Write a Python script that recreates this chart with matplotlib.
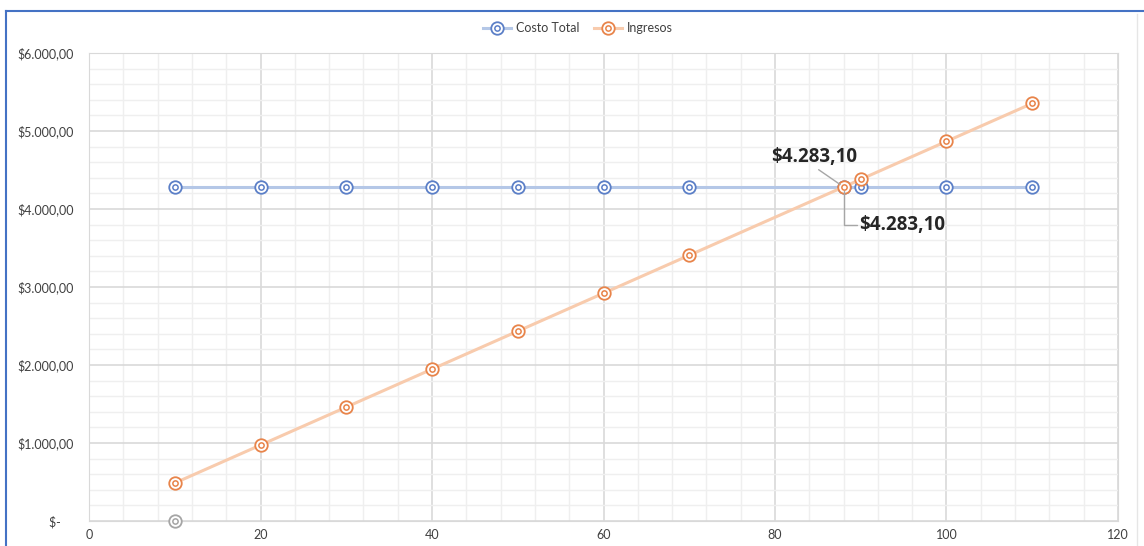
import matplotlib.pyplot as plt
from matplotlib.lines import Line2D
from matplotlib.ticker import MultipleLocator, FuncFormatter

plt.rcParams['font.family'] = ['Lato', 'DejaVu Sans']

# datos
unidades = [10, 20, 30, 40, 50, 60, 70, 88, 90, 100, 110]
costo_total = [4283.10] * len(unidades)
ingresos = [486.72, 973.43, 1460.15, 1946.86, 2433.58, 2920.30, 3407.01,
            4283.10, 4380.44, 4867.16, 5353.88]
punto_gris_x = [10]
punto_gris_y = [0]
equilibrio_x = 88
equilibrio_y = 4283.10

azul = '#5b7fc7'
azul_linea = '#b4c7e7'
naranja = '#e8844a'
naranja_linea = '#f8cbad'
gris = '#a5a5a5'
texto = '#404040'


def money(v, pos=None):
    if abs(v) < 1e-9:
        return '$-    '
    s = f'{v:,.2f}'.replace(',', 'X').replace('.', ',').replace('X', '.')
    return '$' + s


fig = plt.figure(figsize=(11.44, 5.46), dpi=100)
ax = fig.add_axes([89 / 1144, 1 - 521 / 546, (1118 - 89) / 1144, (521 - 53) / 546])


def serie(x, y, col_line, col_mark, z):
    ax.plot(x, y, color=col_line, lw=2.2, zorder=z, solid_capstyle='round')
    ax.plot(x, y, ls='none', marker='o', ms=9, mfc='#ffffff', mec=col_mark,
            mew=1.3, zorder=z + 0.1)
    ax.plot(x, y, ls='none', marker='o', ms=3.8, mfc='none', mec=col_mark,
            mew=1.1, zorder=z + 0.2)


serie(unidades, costo_total, azul_linea, azul, 3)
serie(unidades, ingresos, naranja_linea, naranja, 4)
ax.plot(punto_gris_x, punto_gris_y, ls='none', marker='o', ms=9, mfc='#ffffff',
        mec=gris, mew=1.3, zorder=5, clip_on=False)
ax.plot(punto_gris_x, punto_gris_y, ls='none', marker='o', ms=3.8, mfc='none',
        mec=gris, mew=1.1, zorder=5, clip_on=False)

ax.set_xlim(0, 120)
ax.set_ylim(0, 6000)
ax.xaxis.set_major_locator(MultipleLocator(20))
ax.xaxis.set_minor_locator(MultipleLocator(4))
ax.yaxis.set_major_locator(MultipleLocator(1000))
ax.yaxis.set_minor_locator(MultipleLocator(200))
ax.yaxis.set_major_formatter(FuncFormatter(money))
ax.grid(which='major', color='#d9d9d9', lw=1.2, zorder=0)
ax.grid(which='minor', color='#efefef', lw=1.0, zorder=0)
ax.set_axisbelow(True)
for sp in ax.spines.values():
    sp.set_color('#d9d9d9')
ax.tick_params(which='both', length=0, labelsize=9, colors=texto)
ax.tick_params(axis='y', pad=11)
ax.tick_params(axis='x', pad=6)

# etiquetas del punto de equilibrio
estilo = dict(textcoords='offset pixels', fontsize=13.5, fontweight='bold',
              family=['Open Sans', 'DejaVu Sans'], color='#262626', zorder=6)
ax.annotate(money(equilibrio_y), xy=(equilibrio_x, equilibrio_y), xytext=(-29, 30),
            ha='center', va='center',
            arrowprops=dict(arrowstyle='-', color='#a6a6a6', lw=1.0,
                            relpos=(0.5, 0), shrinkA=0, shrinkB=3), **estilo)
ax.annotate(money(equilibrio_y), xy=(equilibrio_x, equilibrio_y), xytext=(16, -38),
            ha='left', va='center',
            arrowprops=dict(arrowstyle='-', color='#a6a6a6', lw=1.0,
                            relpos=(0, 0.5), shrinkA=0, shrinkB=3,
                            connectionstyle='angle,angleA=0,angleB=90,rad=0'),
            **estilo)

# leyenda
h_ct = (Line2D([], [], color=azul_linea, lw=2.2),
        Line2D([], [], ls='none', marker='o', ms=9, mfc='#ffffff', mec=azul, mew=1.3),
        Line2D([], [], ls='none', marker='o', ms=3.8, mfc='none', mec=azul, mew=1.1))
h_in = (Line2D([], [], color=naranja_linea, lw=2.2),
        Line2D([], [], ls='none', marker='o', ms=9, mfc='#ffffff', mec=naranja, mew=1.3),
        Line2D([], [], ls='none', marker='o', ms=3.8, mfc='none', mec=naranja, mew=1.1))
fig.legend([h_ct, h_in], ['Costo Total', 'Ingresos'], loc='center',
           bbox_to_anchor=(0.505, 0.948), ncol=2, frameon=False, fontsize=9,
           handlelength=2.2, columnspacing=1.2, handletextpad=0.4,
           labelcolor=texto)

# borde del area del grafico
fig.add_artist(Line2D([0.005, 1.0], [0.98, 0.98], color='#4472c4', lw=1.5))
fig.add_artist(Line2D([0.005, 0.005], [0.0, 0.98], color='#4472c4', lw=1.5))
fig.add_artist(Line2D([0.994, 0.994], [0.0, 0.975], color='#e6e6e6', lw=1.0))

fig.savefig('out.png', dpi=100)
